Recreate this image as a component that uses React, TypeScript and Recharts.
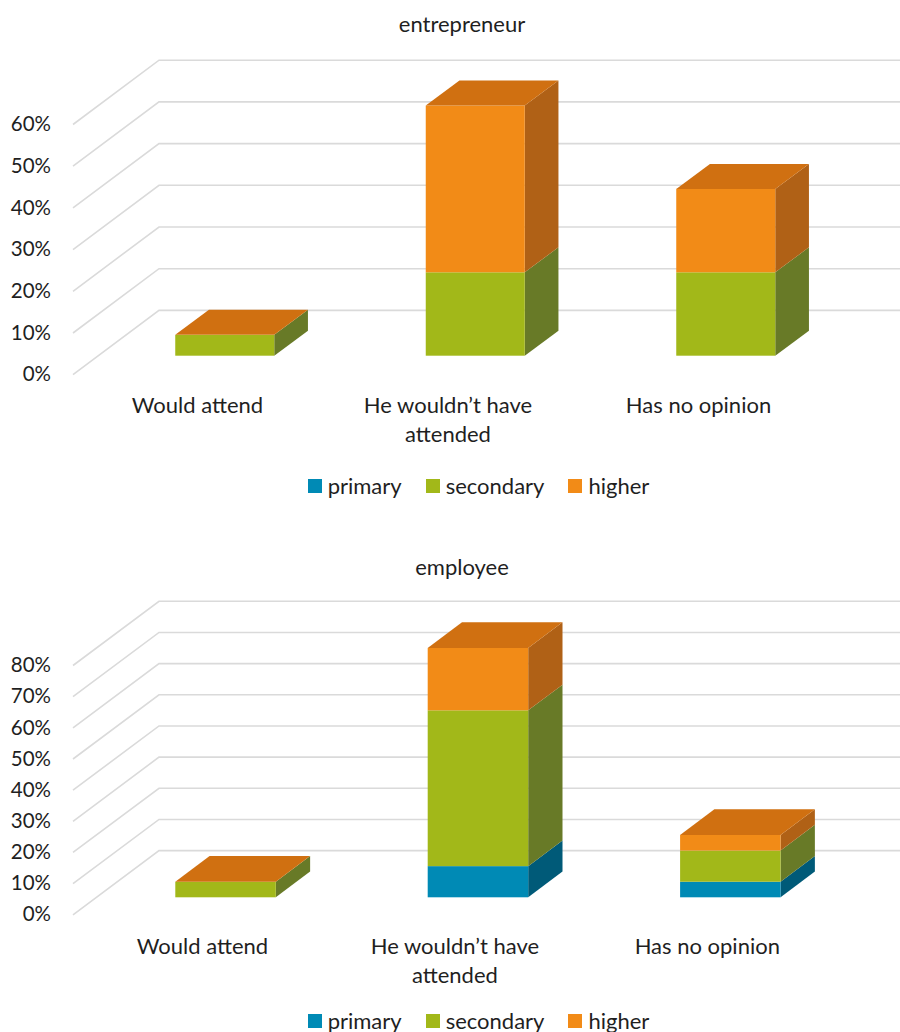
import React from "react";
import { BarChart, Bar, XAxis, YAxis, CartesianGrid, Legend } from "recharts";

const categories = ["Would attend", "He wouldn’t have attended", "Has no opinion"];

const entrepreneurPrimary = [0, 0, 0];
const entrepreneurSecondary = [5, 20, 20];
const entrepreneurHigher = [0, 40, 20];
const entrepreneurTicks = [0, 10, 20, 30, 40, 50, 60];

const employeePrimary = [0, 10, 5];
const employeeSecondary = [5, 50, 10];
const employeeHigher = [0, 20, 5];
const employeeTicks = [0, 10, 20, 30, 40, 50, 60, 70, 80];

const FONT = "Lato, Carlito, sans-serif";
const TEXT = "#1f1f1f";
const GRID = "#DADADA";

const seriesStyles = [
  { key: "primary", front: "#008AB5", side: "#005A78" },
  { key: "secondary", front: "#A2B819", side: "#687A27" },
  { key: "higher", front: "#F28B17", side: "#B06116", top: "#D07011" },
];

const toRows = (primary: number[], secondary: number[], higher: number[]) =>
  categories.map((name, i) => ({
    name,
    primary: primary[i],
    secondary: secondary[i],
    higher: higher[i],
  }));

// Extruded bar segment: front rectangle, receding side and (for the last series) a lid.
function Box(props: any) {
  const { x, y, width, height, style, depthX, depthY } = props;
  const r = x + width;
  const b = y + height;
  return (
    <g>
      <polygon
        points={`${r},${y} ${r + depthX},${y - depthY} ${r + depthX},${b - depthY} ${r},${b}`}
        fill={style.side}
      />
      <rect x={x} y={y} width={width} height={height} fill={style.front} />
      {style.top && (
        <polygon
          points={`${x},${y} ${r},${y} ${r + depthX},${y - depthY} ${x + depthX},${y - depthY}`}
          fill={style.top}
        />
      )}
    </g>
  );
}

function wrapLabel(label: string, maxChars: number) {
  const lines: string[] = [];
  let line = "";
  for (const word of label.split(" ")) {
    const next = line ? `${line} ${word}` : word;
    if (next.length > maxChars && line) {
      lines.push(line);
      line = word;
    } else {
      line = next;
    }
  }
  lines.push(line);
  return lines;
}

function LegendRow({ payload }: any) {
  return (
    <div
      style={{
        display: "flex",
        justifyContent: "center",
        alignItems: "center",
        gap: 24,
        fontFamily: FONT,
        fontSize: 22,
        color: TEXT,
        lineHeight: "28px",
        whiteSpace: "nowrap",
      }}
    >
      {(payload || []).map((entry: any) => (
        <span key={entry.value} style={{ display: "inline-flex", alignItems: "center", gap: 6 }}>
          <span style={{ width: 14, height: 14, background: entry.color, display: "inline-block" }} />
          {entry.value}
        </span>
      ))}
    </div>
  );
}

type PanelProps = {
  title: string;
  titleY: number;
  rows: any[];
  ticks: number[];
  height: number;
  plotTop: number;
  plotBottom: number;
  plotLeft: number;
  plotRight: number;
  barSize: number;
  depthX: number;
  depthY: number;
  frontOffset: number;
  backOffset: number;
  labelShift: number;
  labelY: number;
  legendTop: number;
  legendCenter: number;
};

function Panel(p: PanelProps) {
  const xAxisHeight = 60;
  return (
    <BarChart
      width={900}
      height={p.height}
      data={p.rows}
      margin={{
        top: p.plotTop,
        bottom: p.height - p.plotBottom - xAxisHeight,
        left: p.plotLeft - 60,
        right: 900 - p.plotRight,
      }}
      barCategoryGap={0}
    >
      <text x={462} y={p.titleY} textAnchor="middle" fontFamily={FONT} fontSize={22} fill={TEXT}>
        {p.title}
      </text>
      <CartesianGrid
        vertical={false}
        horizontal={(g: any) => (
          <polyline
            key={g.key ?? g.y1}
            points={`73,${g.y1 + p.frontOffset} 159,${g.y1 + p.backOffset} 900,${g.y1 + p.backOffset}`}
            fill="none"
            stroke={GRID}
            strokeWidth={1.6}
          />
        )}
      />
      <XAxis
        dataKey="name"
        height={xAxisHeight}
        interval={0}
        axisLine={false}
        tickLine={false}
        tick={(t: any) => (
          <g>
            {wrapLabel(t.payload.value, 17).map((line, i) => (
              <text
                key={line}
                x={t.x + p.labelShift}
                y={p.labelY + i * 28.5}
                textAnchor="middle"
                fontFamily={FONT}
                fontSize={22}
                fill={TEXT}
              >
                {line}
              </text>
            ))}
          </g>
        )}
      />
      <YAxis
        width={60}
        domain={[p.ticks[0], p.ticks[p.ticks.length - 1]]}
        ticks={p.ticks}
        interval={0}
        axisLine={false}
        tickLine={false}
        tick={(t: any) => (
          <text
            x={51}
            y={t.y + p.frontOffset + 1.5}
            textAnchor="end"
            dominantBaseline="middle"
            fontFamily={FONT}
            fontSize={20.5}
            fill={TEXT}
          >
            {`${t.payload.value}%`}
          </text>
        )}
      />
      {seriesStyles.map((style) => (
        <Bar
          key={style.key}
          dataKey={style.key}
          stackId="total"
          fill={style.front}
          barSize={p.barSize}
          isAnimationActive={false}
          shape={(b: any) => <Box {...b} style={style} depthX={p.depthX} depthY={p.depthY} />}
        />
      ))}
      <Legend
        layout="horizontal"
        verticalAlign="middle"
        align="center"
        itemSorter={null}
        wrapperStyle={{ left: p.legendCenter - 450, top: p.legendTop, width: 900 }}
        content={(c: any) => <LegendRow payload={c.payload} />}
      />
    </BarChart>
  );
}

export default function App() {
  return (
    <div style={{ position: "absolute", left: 0, top: 0, width: 900, height: 1032, background: "#fff" }}>
      <div style={{ position: "absolute", left: 0, top: 0 }}>
        <Panel
          title="entrepreneur"
          titleY={32}
          rows={toRows(entrepreneurPrimary, entrepreneurSecondary, entrepreneurHigher)}
          ticks={entrepreneurTicks}
          height={510}
          plotTop={105.5}
          plotBottom={355.7}
          plotLeft={99.25}
          plotRight={850.75}
          barSize={99}
          depthX={33.7}
          depthY={25}
          frontOffset={19}
          backOffset={-45.3}
          labelShift={-27}
          labelY={413}
          legendTop={472}
          legendCenter={478.5}
        />
      </div>
      <div style={{ position: "absolute", left: 0, top: 510 }}>
        <Panel
          title="employee"
          titleY={65}
          rows={toRows(employeePrimary, employeeSecondary, employeeHigher)}
          ticks={employeeTicks}
          height={522}
          plotTop={138}
          plotBottom={387.3}
          plotLeft={99.3}
          plotRight={856.5}
          barSize={100.5}
          depthX={34.3}
          depthY={25.7}
          frontOffset={17.5}
          backOffset={-46.7}
          labelShift={-23}
          labelY={444.3}
          legendTop={497}
          legendCenter={478.5}
        />
      </div>
    </div>
  );
}
